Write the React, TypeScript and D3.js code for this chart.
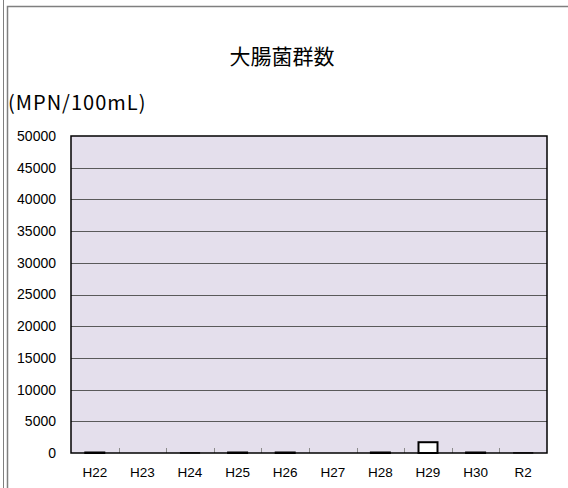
import { useRef, useEffect, RefObject } from 'react';
import * as d3 from 'd3';

const categories: string[] = ['H22', 'H23', 'H24', 'H25', 'H26', 'H27', 'H28', 'H29', 'H30', 'R2'];
const values: number[] = [80, 0, 30, 80, 80, 0, 80, 1700, 80, 30];
const yTicks: number[] = [0, 5000, 10000, 15000, 20000, 25000, 30000, 35000, 40000, 45000, 50000];

const App = () => {
  const svgRef: RefObject<SVGSVGElement> = useRef(null);

  useEffect(() => {
    const width = 568;
    const height = 488;
    const margin = { top: 136, right: 21, bottom: 35, left: 71 };

    const svg = d3.select(svgRef.current);
    svg.selectAll('*').remove();
    svg.attr('width', width).attr('height', height);

    // outer frame lines
    svg.append('rect').attr('width', width).attr('height', height).attr('fill', 'white');
    svg.append('line').attr('x1', 3.5).attr('x2', 3.5).attr('y1', 0).attr('y2', height)
      .attr('stroke', '#7f7f7f').attr('stroke-width', 1);
    svg.append('path').attr('d', `M7.5,${height} V6.5 H${width}`)
      .attr('fill', 'none').attr('stroke', '#7f7f7f').attr('stroke-width', 1.5);

    const x = d3.scaleBand().domain(categories)
      .range([margin.left, width - margin.right]);
    const y = d3.scaleLinear().domain([0, 50000])
      .range([height - margin.bottom, margin.top]);

    svg.append('rect')
      .attr('x', margin.left).attr('y', margin.top)
      .attr('width', width - margin.left - margin.right)
      .attr('height', height - margin.top - margin.bottom)
      .attr('fill', '#e4dfec');

    // gridlines
    svg.append('g')
      .selectAll('line')
      .data(yTicks.slice(1, -1))
      .join('line')
      .attr('x1', margin.left).attr('x2', width - margin.right)
      .attr('y1', (d) => Math.round(y(d)) + 0.5).attr('y2', (d) => Math.round(y(d)) + 0.5)
      .attr('stroke', '#5a5a5a').attr('stroke-width', 1);

    // x ticks between categories
    svg.append('g')
      .selectAll('line')
      .data(categories.slice(1))
      .join('line')
      .attr('x1', (d) => Math.round(x(d)!) + 0.5).attr('x2', (d) => Math.round(x(d)!) + 0.5)
      .attr('y1', y(0)).attr('y2', y(0) - 5)
      .attr('stroke', '#8c8c8c').attr('stroke-width', 1);

    // bars
    const bw = 19;
    svg.append('g')
      .selectAll('rect')
      .data(values.map((v, i) => ({ c: categories[i], v })).filter((d) => d.v > 0))
      .join('rect')
      .attr('x', (d) => x(d.c)! + x.bandwidth() / 2 - bw / 2)
      .attr('y', (d) => y(d.v))
      .attr('width', bw)
      .attr('height', (d) => y(0) - y(d.v))
      .attr('fill', 'white')
      .attr('stroke', 'black')
      .attr('stroke-width', (d) => (d.v > 60 ? 2 : 1.2));

    // plot border
    svg.append('rect')
      .attr('x', margin.left).attr('y', margin.top)
      .attr('width', width - margin.left - margin.right)
      .attr('height', height - margin.top - margin.bottom)
      .attr('fill', 'none').attr('stroke', 'black').attr('stroke-width', 1.5);

    // y labels
    svg.append('g')
      .selectAll('text')
      .data(yTicks)
      .join('text')
      .attr('x', 56).attr('y', (d) => y(d))
      .attr('dy', '0.35em')
      .attr('text-anchor', 'end')
      .attr('font-family', '"Liberation Sans", Arial, sans-serif')
      .attr('font-size', 14)
      .text((d) => d);

    // x labels
    svg.append('g')
      .selectAll('text')
      .data(categories)
      .join('text')
      .attr('x', (d) => x(d)! + x.bandwidth() / 2)
      .attr('y', 477)
      .attr('text-anchor', 'middle')
      .attr('font-family', '"Liberation Sans", Arial, sans-serif')
      .attr('font-size', 13.5)
      .text((d) => d);

    svg.append('text')
      .attr('x', 282).attr('y', 64)
      .attr('text-anchor', 'middle')
      .attr('font-family', '"Noto Sans CJK JP", sans-serif')
      .attr('font-size', 21)
      .text('大腸菌群数');

    svg.append('text')
      .attr('x', 8).attr('y', 110)
      .attr('font-family', '"Noto Sans CJK JP", sans-serif')
      .attr('font-size', 20)
      .attr('letter-spacing', 1)
      .text('(MPN/100mL)');
  }, []);

  return (
    <div style={{ position: 'absolute', left: 0, top: 0 }}>
      <svg ref={svgRef} style={{ display: 'block' }}></svg>
    </div>
  );
};

export default App;
